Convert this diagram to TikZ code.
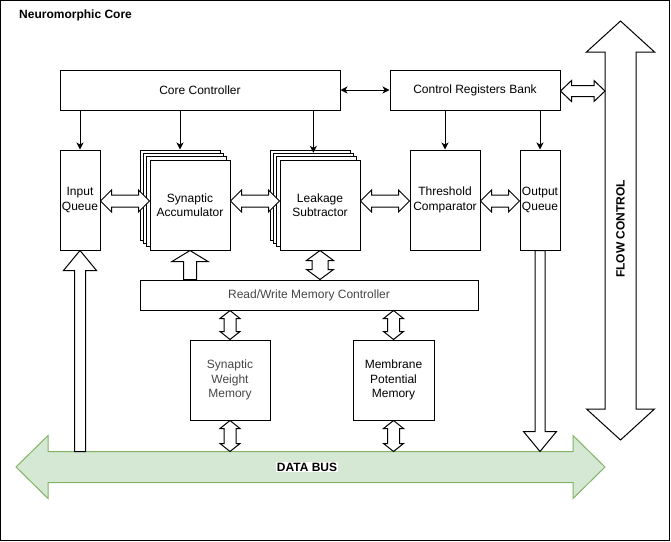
\documentclass[tikz,border=0pt]{standalone}
\usepackage{fontspec}
\setmainfont{Liberation Sans}
\usetikzlibrary{calc,arrows.meta}
\definecolor{busfill}{HTML}{D5E8D4}
\definecolor{busline}{HTML}{82B366}
\definecolor{graytext}{HTML}{464646}
\tikzset{
  box/.style={draw, fill=white, line width=1pt, inner sep=0pt, align=center,
    font=\fontsize{12}{14.4}\selectfont},
  layer/.style={draw, fill=white, line width=1pt, inner sep=0pt,
    minimum width=80pt, minimum height=90pt},
  arr/.style={line width=1pt, -{Stealth[length=7pt,width=7pt,inset=2pt]}},
  barr/.style={line width=1pt, {Stealth[length=7pt,width=7pt,inset=2pt]}-{Stealth[length=7pt,width=7pt,inset=2pt]}},
  hollow/.style={draw, fill=white, line width=1pt, line join=miter},
  dblk/.style n args={3}{to path={
    let \p1=(\tikztostart), \p2=(\tikztotarget),
        \n1={veclen(\x2-\x1,\y2-\y1)},
        \n2={(\x2-\x1)/\n1}, \n3={(\y2-\y1)/\n1}
    in (\p1)
    -- ({\x1+#1*\n2-#2*\n3},{\y1+#1*\n3+#2*\n2})
    -- ({\x1+#1*\n2-#3*\n3},{\y1+#1*\n3+#3*\n2})
    -- ({\x2-#1*\n2-#3*\n3},{\y2-#1*\n3+#3*\n2})
    -- ({\x2-#1*\n2-#2*\n3},{\y2-#1*\n3+#2*\n2})
    -- (\p2)
    -- ({\x2-#1*\n2+#2*\n3},{\y2-#1*\n3-#2*\n2})
    -- ({\x2-#1*\n2+#3*\n3},{\y2-#1*\n3-#3*\n2})
    -- ({\x1+#1*\n2+#3*\n3},{\y1+#1*\n3-#3*\n2})
    -- ({\x1+#1*\n2+#2*\n3},{\y1+#1*\n3-#2*\n2})
    -- cycle}},
  sblk/.style n args={3}{to path={
    let \p1=(\tikztostart), \p2=(\tikztotarget),
        \n1={veclen(\x2-\x1,\y2-\y1)},
        \n2={(\x2-\x1)/\n1}, \n3={(\y2-\y1)/\n1}
    in ({\x1-#3*\n3},{\y1+#3*\n2})
    -- ({\x2-#1*\n2-#3*\n3},{\y2-#1*\n3+#3*\n2})
    -- ({\x2-#1*\n2-#2*\n3},{\y2-#1*\n3+#2*\n2})
    -- (\p2)
    -- ({\x2-#1*\n2+#2*\n3},{\y2-#1*\n3-#2*\n2})
    -- ({\x2-#1*\n2+#3*\n3},{\y2-#1*\n3-#3*\n2})
    -- ({\x1+#3*\n3},{\y1-#3*\n2})
    -- cycle}}
}
\begin{document}
\begin{tikzpicture}[x=1pt,y=-1pt]
\useasboundingbox (0,0) rectangle (671,541);
\draw[line width=1pt] (0.5,0.5) rectangle (669.5,540);
\node[anchor=west, inner sep=0pt, font=\fontsize{12}{14.4}\selectfont\bfseries] (title) at (19,15) {Neuromorphic Core};

% top row
\node[box, minimum width=280pt, minimum height=40pt] (cc) at (200,90) {Core Controller};
\node[box, minimum width=170pt, minimum height=40pt] (crb) at (475,90) {Control Registers Bank};

% processing row
\node[box, minimum width=40pt, minimum height=100pt] (iq) at (80,200) {Input\\Queue};
\node[layer] (sa3) at (180,195) {};
\node[layer] (sa2) at (183.33,198.33) {};
\node[layer] (sa1) at (186.67,201.67) {};
\node[box, minimum width=80pt, minimum height=90pt] (sa) at (190,205) {Synaptic\\Accumulator};
\node[layer] (ls3) at (310,195) {};
\node[layer] (ls2) at (313.33,198.33) {};
\node[layer] (ls1) at (316.67,201.67) {};
\node[box, minimum width=80pt, minimum height=90pt] (ls) at (320,205) {Leakage\\Subtractor};
\node[box, minimum width=70pt, minimum height=100pt] (tc) at (445,200) {Threshold\\Comparator};
\node[box, minimum width=40pt, minimum height=100pt] (oq) at (540,200) {Output\\Queue};

% memory
\node[box, minimum width=338pt, minimum height=30pt, text=graytext] (rw) at (309,295) {Read/Write Memory Controller};
\node[box, minimum width=80pt, minimum height=80pt, text=graytext] (swm) at (230,380) {Synaptic\\Weight\\Memory};
\node[box, minimum width=81pt, minimum height=80pt] (mpm) at (393.5,380) {Membrane\\Potential\\Memory};

% reference coordinates
\coordinate (hr) at (0,201);
\coordinate (dbL) at (16,467);
\coordinate (dbR) at (605,467);
\coordinate (dbT) at (310,451.5);
\coordinate (fcT) at (620.5,21);
\coordinate (fcB) at (620.5,440);
\coordinate (fcL) at (605,91);

% flow control arrow
\draw[hollow] (fcT) to[dblk={31}{34}{15.5}] (fcB);
\node[rotate=90, inner sep=0pt, font=\fontsize{12}{14.4}\selectfont\bfseries] (fcl) at (620.5,229) {FLOW CONTROL};

% data bus
\draw[line width=1pt, fill=busfill, draw=busline, line join=miter] (dbL) to[dblk={32}{31.5}{15.5}] (dbR);
\node[fill=white, inner sep=1pt, font=\fontsize{12}{14.4}\selectfont\bfseries] (dbl) at (307,467) {DATA BUS};

% thin control arrows
\draw[arr] (cc.south -| iq.north) -- (iq.north);
\draw[arr] (cc.south -| sa3.north) -- (sa3.north);
\draw[arr] (cc.south -| ls2.north) -- (ls2.north);
\draw[arr] (crb.south -| tc.north) -- (tc.north);
\draw[arr] (crb.south -| oq.north) -- (oq.north);
\draw[barr] (cc.east) -- (crb.west);

% horizontal hollow double arrows
\draw[hollow] (iq.east |- hr) to[dblk={11}{11}{6}] (sa.west |- hr);
\draw[hollow] (sa.east |- hr) to[dblk={11}{11}{6}] (ls.west |- hr);
\draw[hollow] (ls.east |- hr) to[dblk={11}{11}{6}] (tc.west |- hr);
\draw[hollow] (tc.east |- hr) to[dblk={11}{11}{6}] (oq.west |- hr);
\draw[hollow] (crb.east |- fcL) to[dblk={11}{10.5}{5.5}] (fcL);

% vertical hollow arrows
\draw[hollow] (ls.south) to[dblk={10}{13.5}{8}] (ls.south |- rw.north);
\draw[hollow] (swm.north |- rw.south) to[dblk={8}{10}{6}] (swm.north);
\draw[hollow] (swm.south) to[dblk={8}{10}{6}] (swm.south |- dbT);
\draw[hollow] (mpm.north |- rw.south) to[dblk={8}{10}{6}] (mpm.north);
\draw[hollow] (mpm.south) to[dblk={8}{10}{6}] (mpm.south |- dbT);
\draw[hollow] (sa.south |- rw.north) to[sblk={11}{18}{6.5}] (sa.south);
\draw[hollow] (iq.south |- dbT) to[sblk={20}{16.5}{5.5}] (iq.south);
\draw[hollow] (oq.south) to[sblk={20}{16.5}{5}] (oq.south |- dbT);
\end{tikzpicture}
\end{document}
